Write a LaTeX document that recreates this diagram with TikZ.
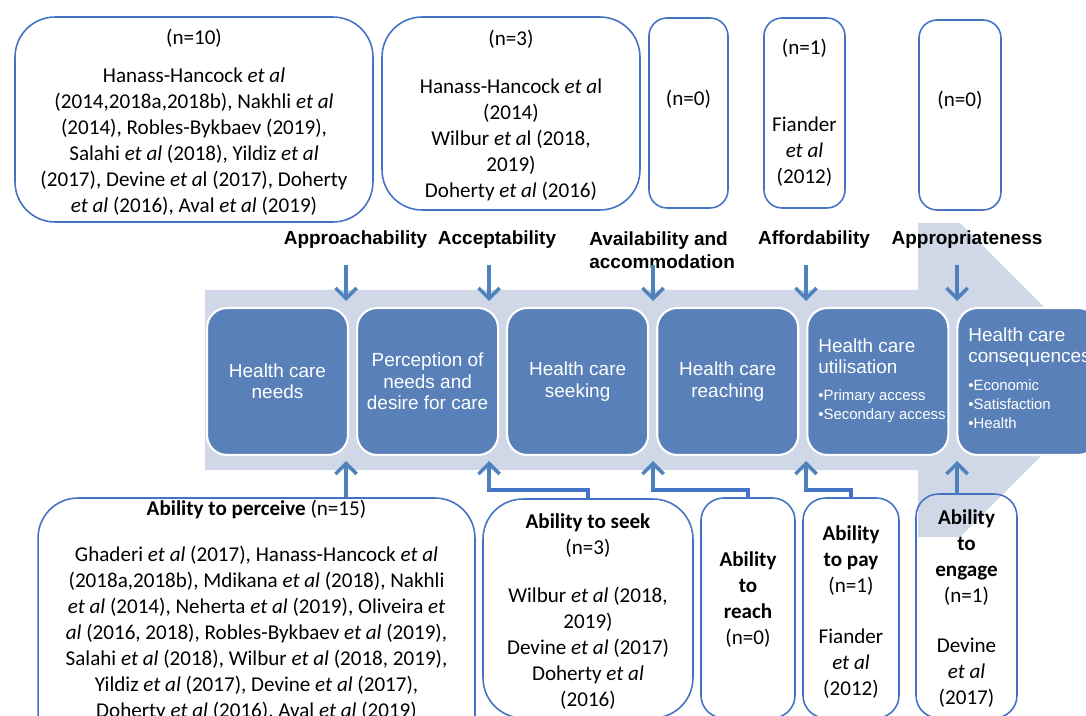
\documentclass[tikz,border=0pt]{standalone}
\usepackage{fontspec}
\setmainfont{Carlito}
\newfontfamily\arialfont{Liberation Sans}
\usetikzlibrary{arrows.meta,positioning}
\definecolor{stageblue}{RGB}{89,128,184}
\definecolor{bandgrey}{RGB}{208,216,232}
\definecolor{boxline}{RGB}{68,114,196}
\definecolor{arrowblue}{RGB}{79,129,189}
\tikzset{
  refbox/.style={draw=boxline,line width=0.9pt,rounded corners=#1,inner sep=0pt},
  refbox/.default=0.8cm,
  reftext/.style={align=center,inner sep=0pt,font=\fontsize{12}{14.8}\selectfont},
  stage/.style={fill=stageblue,draw=white,line width=1.2pt,rounded corners=0.4cm,
    minimum width=2.82cm,minimum height=2.94cm,text=white,align=center,inner sep=0pt,
    font=\arialfont\fontsize{10.8}{12.2}\selectfont},
  stagehead/.style={anchor=north west,align=left,inner sep=0pt,text=white,
    font=\arialfont\fontsize{10.8}{12.2}\selectfont},
  stagelist/.style={anchor=north west,align=left,inner sep=0pt,text=white,
    font=\arialfont\fontsize{8.5}{10.8}\selectfont},
  dimlabel/.style={inner sep=0pt,font=\arialfont\bfseries\fontsize{10.8}{13.2}\selectfont},
  acc/.style={draw=arrowblue,line width=2pt,-{Straight Barb[length=6pt,width=12pt]}},
  link/.style={draw=boxline,line width=2pt,line cap=rect}
}

\begin{document}
\begin{tikzpicture}[x=0.02cm,y=-0.02cm]
\useasboundingbox (0,0) rectangle (1086,716);
\clip (0,0) rectangle (1086,716);

% band arrow behind the stages
\fill[bandgrey] (205,290) -- (918,290) -- (918,223) -- (960,223) -- (1117,380)
    -- (960,537) -- (918,537) -- (918,470) -- (205,470) -- cycle;

% stages
\node[stage] (s1) at (277.5,381.5) {Health care\\needs};
\node[stage,right=0.14cm of s1] (s2) {Perception of\\needs and\\desire for care};
\node[stage,right=0.14cm of s2] (s3) {Health care\\seeking};
\node[stage,right=0.14cm of s3] (s4) {Health care\\reaching};
\node[stage,right=0.14cm of s4] (s5) {};
\node[stage,right=0.14cm of s5] (s6) {};
\node[stagehead] (h5) at (818,338) {Health care\\utilisation};
\node[stagelist] (l5) at (818,389) {\textbullet Primary access\\\textbullet Secondary access};
\node[stagehead] (h6) at (968,327) {Health care\\consequences};
\node[stagelist] (l6) at (968,379) {\textbullet Economic\\\textbullet Satisfaction\\\textbullet Health};

% dimensions of accessibility
\node[dimlabel,anchor=base] (ap) at (355.5,245) {Approachability};
\node[dimlabel,anchor=base] (ac) at (497,245) {Acceptability};
\node[dimlabel,anchor=north west,align=left] (av) at (589,231) {Availability and\\accommodation};
\node[dimlabel,anchor=base] (af) at (814,245) {Affordability};
\node[dimlabel,anchor=base] (aq) at (967,245) {Appropriateness};

% counts above
\node[refbox,minimum width=7.16cm,minimum height=4.1cm] (qA) at (194,119.5) {};
\node[refbox,minimum width=5.16cm,minimum height=3.86cm] (qB) at (511,113.5) {};
\node[refbox=0.36cm,minimum width=1.58cm,minimum height=3.8cm] (qC) at (688.5,113) {};
\node[refbox=0.36cm,minimum width=1.62cm,minimum height=3.8cm] (qD) at (804.5,113) {};
\node[refbox=0.36cm,minimum width=1.64cm,minimum height=3.8cm] (qE) at (960,115) {};

\node[reftext,anchor=north] (tA) at (194,29) {(n=10)\\[0.24cm]Hanass-Hancock \textit{et al}\\(2014,2018a,2018b), Nakhli \textit{et al}\\(2014), Robles-Bykbaev (2019),\\Salahi \textit{et al} (2018), Yildiz \textit{et al}\\(2017), Devine \textit{et a}l (2017), Doherty\\\textit{et al} (2016), Aval \textit{et al} (2019)};
\node[reftext,anchor=north] (tB) at (511,30) {(n=3)\\[0.44cm]Hanass-Hancock \textit{et a}l\\(2014)\\Wilbur \textit{et a}l (2018,\\2019)\\Doherty \textit{et al} (2016)};
\node[reftext,anchor=base] (tC) at (688.5,106) {(n=0)};
\node[reftext,anchor=north] (tD) at (804.5,39) {(n=1)\\[1.02cm]Fiander\\\textit{et al}\\(2012)};
\node[reftext,anchor=base] (tE) at (960,107) {(n=0)};

% abilities below
\node[refbox,minimum width=8.74cm,minimum height=5.24cm] (perceive) at (256.5,629) {};
\node[refbox,minimum width=4.2cm,minimum height=4.38cm] (seek) at (588,608.5) {};
\node[refbox=0.45cm,minimum width=1.88cm,minimum height=4.4cm] (reach) at (748,608) {};
\node[refbox=0.45cm,minimum width=1.92cm,minimum height=4.4cm] (pay) at (851,608) {};
\node[refbox=0.45cm,minimum width=2.02cm,minimum height=4.48cm] (engage) at (966.5,606) {};

\node[reftext,anchor=north] (bP) at (256.5,500) {\textbf{Ability to perceive} (n=15)\\[0.4cm]Ghaderi \textit{et al} (2017), Hanass-Hancock \textit{et al}\\(2018a,2018b), Mdikana \textit{et al} (2018), Nakhli\\\textit{et al} (2014), Neherta \textit{et al} (2019), Oliveira \textit{et}\\\textit{al} (2016, 2018), Robles-Bykbaev \textit{et al} (2019),\\Salahi \textit{et al} (2018), Wilbur \textit{et al} (2018, 2019),\\Yildiz \textit{et al} (2017), Devine \textit{et al} (2017),\\Doherty \textit{et al} (2016), Aval \textit{et al} (2019)};
\node[reftext,anchor=north] (bS) at (588,513) {\textbf{Ability to seek}\\(n=3)\\[0.44cm]Wilbur \textit{et al} (2018,\\2019)\\Devine \textit{et al} (2017)\\Doherty \textit{et al}\\(2016)};
\node[reftext,anchor=north] (bR) at (748,551) {\textbf{Ability}\\\textbf{to}\\\textbf{reach}\\(n=0)};
\node[reftext,anchor=north] (bY) at (851,525) {\textbf{Ability}\\\textbf{to pay}\\(n=1)\\[0.5cm]Fiander\\\textit{et al}\\(2012)};
\node[reftext,anchor=north] (bE) at (966.5,509) {\textbf{Ability}\\\textbf{to}\\\textbf{engage}\\(n=1)\\[0.48cm]Devine\\\textit{et al}\\(2017)};

% arrows into the band
\foreach \i/\x in {1/346,2/489,3/653,4/806,5/957} {
  \coordinate (d\i) at (\x,265);
  \coordinate (b\i) at (\x,301);
  \coordinate (u\i) at (\x,461);
  \coordinate (e\i) at (\x,490);
  \draw[acc] (d\i) -- (b\i);
}
\draw[acc] (perceive.north -| u1) -- (u1);
\draw[link] (seek.north) |- (e2);
\draw[acc] (e2) -- (u2);
\draw[link] (reach.north) |- (e3);
\draw[acc] (e3) -- (u3);
\draw[link] (pay.north) |- (e4);
\draw[acc] (e4) -- (u4);
\draw[acc] (engage.north -| u5) -- (u5);
\end{tikzpicture}
\end{document}
